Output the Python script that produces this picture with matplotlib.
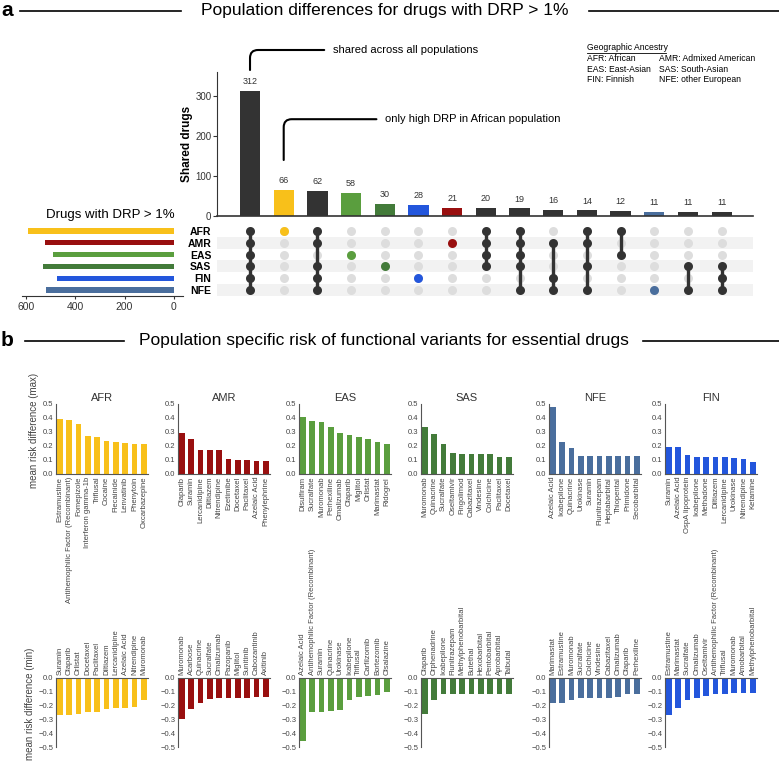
import matplotlib
matplotlib.use('Agg')
import matplotlib.pyplot as plt
from matplotlib.lines import Line2D
import numpy as np

plt.rcParams['font.family'] = ['Liberation Sans', 'DejaVu Sans']

W, H = 779, 763

# ---------------- data: panel a ----------------
populations = ['AFR', 'AMR', 'EAS', 'SAS', 'FIN', 'NFE']
pop_colors = {'AFR': '#f8c01a', 'AMR': '#990f0f', 'EAS': '#5a9e3e',
              'SAS': '#437b3a', 'FIN': '#2356dc', 'NFE': '#4a6e9d'}
set_sizes = [592, 522, 490, 531, 473, 518]

intersection_sizes = [312, 66, 62, 58, 30, 28, 21, 20, 19, 16, 14, 12, 11, 11, 11]
intersection_members = [
    ['AFR', 'AMR', 'EAS', 'SAS', 'FIN', 'NFE'],
    ['AFR'],
    ['AFR', 'AMR', 'SAS', 'FIN', 'NFE'],
    ['EAS'],
    ['SAS'],
    ['FIN'],
    ['AMR'],
    ['AFR', 'AMR', 'EAS', 'SAS'],
    ['AFR', 'AMR', 'EAS', 'SAS', 'NFE'],
    ['AMR', 'FIN', 'NFE'],
    ['AFR', 'AMR', 'SAS', 'NFE'],
    ['AFR', 'EAS'],
    ['NFE'],
    ['SAS', 'NFE'],
    ['SAS', 'FIN', 'NFE'],
]

# ---------------- data: panel b ----------------
b_pops = ['AFR', 'AMR', 'EAS', 'SAS', 'NFE', 'FIN']

max_drugs = {
    'AFR': ['Estramustine', 'Antihemophilic Factor (Recombinant)', 'Fomepizole',
            'Interferon gamma-1b', 'Triflusal', 'Cocaine', 'Flecainide',
            'Lenvatinib', 'Phenytoin', 'Oxcarbazepine'],
    'AMR': ['Olaparib', 'Suramin', 'Lercanidipine', 'Diltiazem', 'Nitrendipine',
            'Ezetimibe', 'Docetaxel', 'Paclitaxel', 'Azelaic Acid', 'Phenylephrine'],
    'EAS': ['Disulfiram', 'Sucralfate', 'Muromonab', 'Perhexiline', 'Omalizumab',
            'Olaparib', 'Miglitol', 'Orlistat', 'Marimastat', 'Ridogrel'],
    'SAS': ['Muromonab', 'Quinacrine', 'Sucralfate', 'Oseltamivir', 'Fingolimod',
            'Cabazitaxel', 'Vindesine', 'Colchicine', 'Paclitaxel', 'Docetaxel'],
    'NFE': ['Azelaic Acid', 'Ixabepilone', 'Quinacrine', 'Urokinase', 'Suramin',
            'Flunitrazepam', 'Heptabarbital', 'Thiopental', 'Primidone', 'Secobarbital'],
    'FIN': ['Suramin', 'Azelaic Acid', 'OspA lipoprotein', 'Ixabepilone', 'Methadone',
            'Diltiazem', 'Lercanidipine', 'Urokinase', 'Nitrendipine', 'Ketamine'],
}
max_values = {
    'AFR': [0.394, 0.385, 0.358, 0.272, 0.267, 0.238, 0.228, 0.224, 0.216, 0.212],
    'AMR': [0.293, 0.250, 0.175, 0.175, 0.175, 0.110, 0.100, 0.100, 0.096, 0.096],
    'EAS': [0.409, 0.380, 0.375, 0.334, 0.293, 0.281, 0.267, 0.248, 0.231, 0.214],
    'SAS': [0.334, 0.286, 0.214, 0.151, 0.144, 0.144, 0.144, 0.144, 0.123, 0.123],
    'NFE': [0.478, 0.226, 0.185, 0.130, 0.127, 0.127, 0.127, 0.127, 0.127, 0.127],
    'FIN': [0.195, 0.190, 0.137, 0.120, 0.120, 0.120, 0.120, 0.113, 0.110, 0.089],
}

min_drugs = {
    'AFR': ['Suramin', 'Olaparib', 'Orlistat', 'Docetaxel', 'Paclitaxel', 'Diltiazem',
            'Lercanidipine', 'Azelaic Acid', 'Nitrendipine', 'Muromonab'],
    'AMR': ['Muromonab', 'Acarbose', 'Quinacrine', 'Sucralfate', 'Omalizumab',
            'Pazopanib', 'Miglitol', 'Sunitinib', 'Cabozantinib', 'Axitinib'],
    'EAS': ['Azelaic Acid', 'Antihemophilic Factor (Recombinant)', 'Suramin',
            'Quinacrine', 'Urokinase', 'Ixabepilone', 'Triflusal', 'Carfilzomib',
            'Bortezomib', 'Olsalazine'],
    'SAS': ['Olaparib', 'Orphenadrine', 'Ixabepilone', 'Flunitrazepam',
            'Methylphenobarbital', 'Butethal', 'Hexobarbital', 'Pentobarbital',
            'Aprobarbital', 'Talbutal'],
    'NFE': ['Marimastat', 'Estramustine', 'Muromonab', 'Sucralfate', 'Colchicine',
            'Vindesine', 'Cabazitaxel', 'Omalizumab', 'Olaparib', 'Perhexiline'],
    'FIN': ['Estramustine', 'Marimastat', 'Sucralfate', 'Omalizumab', 'Oseltamivir',
            'Antihemophilic Factor (Recombinant)', 'Triflusal', 'Muromonab',
            'Amobarbital', 'Methylphenobarbital'],
}
min_values = {
    'AFR': [-0.270, -0.266, -0.260, -0.246, -0.246, -0.222, -0.220, -0.215, -0.208, -0.157],
    'AMR': [-0.297, -0.225, -0.179, -0.152, -0.147, -0.145, -0.145, -0.143, -0.138, -0.138],
    'EAS': [-0.454, -0.249, -0.244, -0.237, -0.234, -0.159, -0.135, -0.133, -0.126, -0.101],
    'SAS': [-0.261, -0.162, -0.118, -0.116, -0.116, -0.116, -0.116, -0.116, -0.116, -0.116],
    'NFE': [-0.184, -0.179, -0.157, -0.147, -0.145, -0.145, -0.145, -0.138, -0.116, -0.114],
    'FIN': [-0.266, -0.220, -0.157, -0.145, -0.130, -0.118, -0.118, -0.111, -0.106, -0.106],
}

DARK = '#333333'


def rect(x0, y0, x1, y1):
    # pixel box -> figure fraction rect
    return [x0 / W, 1 - y1 / H, (x1 - x0) / W, (y1 - y0) / H]


def fx(x):
    return x / W


def fy(y):
    return 1 - y / H


fig = plt.figure(figsize=(W / 100, H / 100), dpi=100, facecolor='white')

# ---------------- headers ----------------
def header(letter, title, y, l_line, r_line):
    fig.text(fx(1), fy(y), letter, fontsize=15, fontweight='bold', va='center', ha='left')
    fig.add_artist(Line2D([fx(l_line[0]), fx(l_line[1])], [fy(y), fy(y)], color='black', lw=1.2))
    fig.add_artist(Line2D([fx(r_line[0]), fx(r_line[1])], [fy(y), fy(y)], color='black', lw=1.2))
    fig.text(fx((l_line[1] + r_line[0]) / 2), fy(y), title, fontsize=12.5,
             ha='center', va='center')

header('a', 'Population differences for drugs with DRP > 1%', 11, (20, 181), (589, 779))
header('b', 'Population specific risk of functional variants for essential drugs', 341,
       (25, 124), (643, 779))

# ---------------- intersection bars ----------------
n_int = len(intersection_sizes)
xpos = np.arange(n_int)
bar_colors = [pop_colors[m[0]] if len(m) == 1 else DARK for m in intersection_members]

ax_bar = fig.add_axes(rect(217, 72, 753, 216))
ax_bar.bar(xpos, intersection_sizes, width=0.6, color=bar_colors)
for x, v in zip(xpos, intersection_sizes):
    ax_bar.text(x, v + 12, str(v), ha='center', va='bottom', fontsize=6.5, color=DARK)
ax_bar.set_xlim(-0.98, 14.93)
ax_bar.set_ylim(0, 360)
ax_bar.set_yticks([0, 100, 200, 300])
ax_bar.tick_params(axis='y', labelsize=7, labelcolor=DARK, length=3, color=DARK, pad=1)
ax_bar.set_xticks([])
for s in ['top', 'right']:
    ax_bar.spines[s].set_visible(False)
ax_bar.spines['left'].set_color(DARK)
ax_bar.spines['bottom'].set_color(DARK)
ax_bar.spines['bottom'].set_linewidth(1.2)
ax_bar.set_ylabel('Shared drugs', fontsize=8.5, fontweight='bold', labelpad=2)

ax_bar.annotate('shared across all populations', xy=(0, 365), xytext=(2.45, 415),
                fontsize=8, ha='left', va='center', annotation_clip=False,
                arrowprops=dict(arrowstyle='-', lw=1.5, color='black', shrinkA=4, shrinkB=0,
                                connectionstyle='angle,angleA=0,angleB=90,rad=8'))
ax_bar.annotate('only high DRP in African population', xy=(1, 140), xytext=(4.0, 242),
                fontsize=8, ha='left', va='center', annotation_clip=False,
                arrowprops=dict(arrowstyle='-', lw=1.5, color='black', shrinkA=4, shrinkB=0,
                                connectionstyle='angle,angleA=0,angleB=90,rad=8'))

# legend box for ancestry
fig.text(fx(587), fy(48), 'Geographic Ancestry', fontsize=6.2, va='center', ha='left')
fig.add_artist(Line2D([fx(587), fx(666)], [fy(52.5), fy(52.5)], color='black', lw=0.6))
legend_rows = [('AFR: African', 'AMR: Admixed American'),
               ('EAS: East-Asian', 'SAS: South-Asian'),
               ('FIN: Finnish', 'NFE: other European')]
for i, (l, r) in enumerate(legend_rows):
    fig.text(fx(587), fy(58.5 + i * 10.5), l, fontsize=6.2, va='center', ha='left')
    fig.text(fx(659), fy(58.5 + i * 10.5), r, fontsize=6.2, va='center', ha='left')

# ---------------- matrix ----------------
ax_mat = fig.add_axes(rect(217, 225, 753, 296))
n_pop = len(populations)
for r in range(n_pop):
    if r % 2 == 1:
        ax_mat.axhspan(r - 0.5, r + 0.5, color='#f2f2f2', zorder=0, lw=0)
for c, members in enumerate(intersection_members):
    rows = [populations.index(m) for m in members]
    ax_mat.scatter([c] * n_pop, range(n_pop), s=42, color='#dddddd', zorder=1, lw=0)
    if len(rows) > 1:
        ax_mat.plot([c, c], [min(rows), max(rows)], color=DARK, lw=2.4, zorder=2,
                    solid_capstyle='round')
    col = pop_colors[members[0]] if len(members) == 1 else DARK
    ax_mat.scatter([c] * len(rows), rows, s=42, color=col, zorder=3, lw=0)
ax_mat.set_xlim(-0.98, 14.93)
ax_mat.set_ylim(n_pop - 0.5, -0.5)
ax_mat.set_xticks([])
ax_mat.set_yticks(range(n_pop))
ax_mat.set_yticklabels(populations, fontsize=7.5, fontweight='bold')
ax_mat.tick_params(axis='y', length=0, pad=4)
for s in ax_mat.spines.values():
    s.set_visible(False)

# ---------------- set sizes ----------------
ax_set = fig.add_axes(rect(22, 225, 183, 296))
ax_set.barh(range(n_pop), set_sizes, height=0.45,
            color=[pop_colors[p] for p in populations])
ax_set.set_xlim(616, -37)
ax_set.set_ylim(n_pop - 0.5, -0.5)
ax_set.set_yticks([])
ax_set.set_xticks([600, 400, 200, 0])
ax_set.tick_params(axis='x', labelsize=7.5, length=2, color=DARK, labelcolor=DARK, pad=2)
for s in ['top', 'right', 'left']:
    ax_set.spines[s].set_visible(False)
ax_set.spines['bottom'].set_color(DARK)
fig.text(fx(110), fy(215), 'Drugs with DRP > 1%', fontsize=9.5, ha='center', va='center')

# ---------------- panel b ----------------
lefts = [56, 178, 299, 421, 549, 665]
TICK = '#444444'
for i, p in enumerate(b_pops):
    x0 = lefts[i]
    # top row: max
    ax = fig.add_axes(rect(x0, 404, x0 + 92, 474))
    ax.bar(range(10), max_values[p], width=0.6, color=pop_colors[p])
    ax.set_xlim(-0.4, 9.45)
    ax.set_ylim(0, 0.5)
    ax.set_yticks([0, 0.1, 0.2, 0.3, 0.4, 0.5])
    ax.set_xticks(range(10))
    ax.set_xticklabels(max_drugs[p], rotation=90, va='top', ha='center')
    ax.tick_params(labelsize=5.5, labelcolor=TICK, length=0, pad=2)
    for s in ['top', 'right']:
        ax.spines[s].set_visible(False)
    for s in ['left', 'bottom']:
        ax.spines[s].set_color('#555555')
        ax.spines[s].set_linewidth(0.8)
    ax.set_title(p, fontsize=8, color=DARK, pad=2)

    # bottom row: min
    ax = fig.add_axes(rect(x0, 678, x0 + 92, 747))
    ax.bar(range(10), min_values[p], width=0.6, color=pop_colors[p])
    ax.set_xlim(-0.4, 9.45)
    ax.set_ylim(-0.5, 0)
    ax.set_yticks([-0.5, -0.4, -0.3, -0.2, -0.1, 0.0])
    ax.xaxis.tick_top()
    ax.set_xticks(range(10))
    ax.set_xticklabels(min_drugs[p], rotation=90, va='bottom', ha='center')
    ax.tick_params(labelsize=5.5, labelcolor=TICK, length=0, pad=2)
    for s in ['bottom', 'right']:
        ax.spines[s].set_visible(False)
    for s in ['left', 'top']:
        ax.spines[s].set_color('#555555')
        ax.spines[s].set_linewidth(0.8)

fig.text(fx(34), fy(430), 'mean risk difference (max)', rotation=90, fontsize=7,
         color=TICK, ha='center', va='center')
fig.text(fx(30), fy(704), 'mean risk difference (min)', rotation=90, fontsize=7,
         color=TICK, ha='center', va='center')

fig.savefig('out.png', dpi=100, facecolor='white')
